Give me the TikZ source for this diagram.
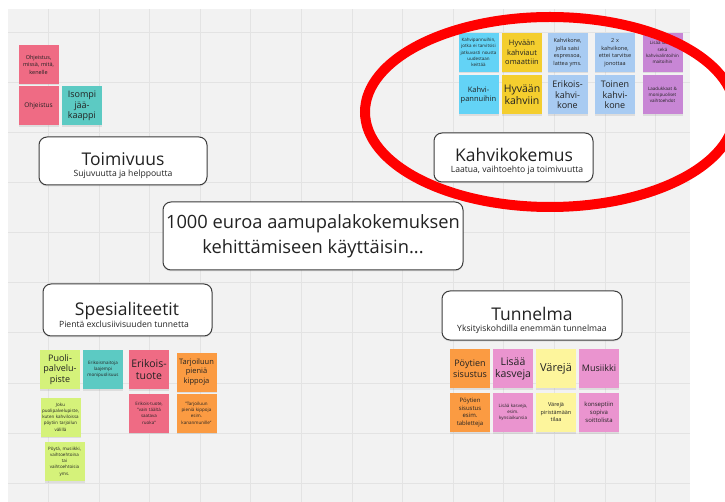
\documentclass[tikz,border=0pt]{standalone}
\usepackage{fontspec}
\setmainfont{Open Sans}
\usetikzlibrary{shadows}

\definecolor{board}{HTML}{F2F2F2}
\definecolor{gridc}{HTML}{E3E3E3}
\definecolor{frame}{HTML}{3C3C3C}
\definecolor{ink}{HTML}{222222}
\definecolor{spink}{HTML}{EF6B84}
\definecolor{steal}{HTML}{5CCAC3}
\definecolor{scyan}{HTML}{63D3F6}
\definecolor{syellow}{HTML}{F4CE2E}
\definecolor{sblue}{HTML}{A8CBF2}
\definecolor{spurple}{HTML}{C886D5}
\definecolor{slime}{HTML}{D5F27A}
\definecolor{sorange}{HTML}{FB9B42}
\definecolor{smagenta}{HTML}{EA94CF}
\definecolor{slyellow}{HTML}{FDF59C}
\definecolor{ring}{HTML}{FF0000}

\newcommand{\stfont}[2]{\fontsize{#1}{#2}\selectfont}

\tikzset{
  sticky/.style={rectangle, fill=#1, minimum width=40pt, minimum height=39pt,
    inner sep=1pt, text width=38pt, align=center, text=ink,
    drop shadow={shadow xshift=0pt, shadow yshift=-1.5pt, opacity=0.18}},
  hugetxt/.style={font=\stfont{10.5}{12}},
  bigtxt/.style={font=\stfont{9}{10.5}},
  midtxt/.style={font=\stfont{7.5}{9.5}},
  smalltxt/.style={font=\stfont{5.5}{7.5}},
  tinytxt/.style={font=\stfont{4.5}{6.3}},
  topic/.style={rectangle, draw=frame, line width=1pt, fill=white,
    rounded corners=8pt,
    drop shadow={shadow xshift=0pt, shadow yshift=-1.5pt, opacity=0.15}},
  heading/.style={anchor=base, inner sep=0pt, text=ink, font=\stfont{17.5}{20}},
  subheading/.style={anchor=base, inner sep=0pt, text=ink, font=\stfont{8.6}{10}},
  gridline/.style={draw=gridc, line width=1pt},
}

\begin{document}
\begin{tikzpicture}[x=1pt, y=-1pt]
\useasboundingbox (0,0) rectangle (725,502);

% whiteboard with its grid
\fill[board] (8,9) rectangle (690,502);
\foreach \i in {0,...,12} \draw[gridline] ({48.5+50.6*\i},9) -- ({48.5+50.6*\i},502);
\foreach \j in {0,...,9} \draw[gridline] (8,{33+50*\j}) -- (690,{33+50*\j});

% ---- top left notes
\node[sticky=spink, smalltxt] (ohj1) at (38.5,64.5) {Ohjeistus,\\missä, mitä,\\kenelle};
\node[sticky=spink, font=\stfont{6.5}{8}] (ohj2) at (38.5,106) {Ohjeistus};
\node[sticky=steal, bigtxt] (jaakaappi) at (82,106) {Isompi\\jää-\\kaappi};

% ---- coffee notes
\node[sticky=scyan, tinytxt] (pannu1) at (478.5,52.5) {Kahvipannuihin,\\jotka ei tarvitsisi\\jatkuvasti nousta\\uudestaan\\keittää};
\node[sticky=scyan, midtxt] (pannu2) at (478.5,95) {Kahvi-\\pannuihin};
\node[sticky=syellow, midtxt] (auto1) at (522,52.5) {Hyvään\\kahviaut\\omaattiin};
\node[sticky=syellow, hugetxt] (auto2) at (522,95) {Hyvään\\kahviin};
\node[sticky=sblue, smalltxt] (kone1) at (567.5,52.5) {Kahvikone,\\jolla saisi\\espressoa,\\lattea yms.};
\node[sticky=sblue, bigtxt] (kone2) at (567.5,95) {Erikois-\\kahvi-\\kone};
\node[sticky=sblue, smalltxt] (toinen1) at (615,52.5) {2 x\\kahvikone,\\ettei tarvitse\\jonottaa};
\node[sticky=sblue, bigtxt] (toinen2) at (615,95) {Toinen\\kahvi-\\kone};
\node[sticky=spurple, tinytxt] (laatu1) at (662.5,52.5) {Lisää laatua\\sekä\\kahvivalintoihin\\maitoihin};
\node[sticky=spurple, tinytxt] (laatu2) at (662.5,95) {Laadukkaat \&\\monipuoliset\\vaihtoehdot};

% ---- speciality notes
\node[sticky=slime, bigtxt] (piste1) at (60,369.5) {Puoli-\\palvelu-\\piste};
\node[sticky=steal, tinytxt] (maito) at (103,369.5) {Erikoismaitoja\\laajempi\\monipuolisuus};
\node[sticky=spink, hugetxt] (tuote1) at (149,369.5) {Erikois-\\tuote};
\node[sticky=sorange, midtxt] (kippo1) at (196.5,372) {Tarjoiluun\\pieniä\\kippoja};
\node[sticky=slime, tinytxt] (piste2) at (60.5,417) {Joku\\puolipalvelupiste,\\kuten kahviloissa\\pöytiin tarjoilun\\välillä};
\node[sticky=spink, tinytxt] (tuote2) at (149,413) {Erikois-tuote,\\"vain täältä\\saatava\\ruoka"};
\node[sticky=sorange, tinytxt] (kippo2) at (196.5,413) {"Tarjoiluun\\pieniä kippoja\\esim.\\kananmunille"};
\node[sticky=slime, tinytxt] (piste3) at (64.5,461.5) {Pöytä, musiikki,\\vaihtoehtoina\\tai\\vaihtoehtoisia\\yms.};

% ---- atmosphere notes
\node[sticky=sorange, bigtxt] (poyta1) at (470,368.5) {Pöytien\\sisustus};
\node[sticky=smagenta, hugetxt] (kasvi1) at (513,368.5) {Lisää\\kasveja};
\node[sticky=slyellow, font=\stfont{11}{13}] (vari1) at (556,368.5) {Värejä};
\node[sticky=smagenta, bigtxt] (musa1) at (599,368.5) {Musiikki};
\node[sticky=sorange, font=\stfont{6}{7.5}] (poyta2) at (470,412.5) {Pöytien\\sisustus\\esim.\\tabletteja};
\node[sticky=smagenta, tinytxt] (kasvi2) at (513,412.5) {Lisää kasveja,\\esim.\\kynsiaikunsia};
\node[sticky=slyellow, smalltxt] (vari2) at (556,412.5) {Värejä\\piristämään\\tilaa};
\node[sticky=smagenta, font=\stfont{6}{8}] (musa2) at (599,412.5) {konseptiin\\sopiva\\soittolista};

% ---- topic boxes
\node[topic, minimum width=168pt, minimum height=48pt] (toimivuus) at (123,161) {};
\node[heading] (toimivuusT) at (123,166) {Toimivuus};
\node[subheading] (toimivuusS) at (123,177) {Sujuvuutta ja helppoutta};

\node[topic, minimum width=159pt, minimum height=49pt] (kahvi) at (513.5,157.5) {};
\node[heading] (kahviT) at (514,162) {Kahvikokemus};
\node[subheading] (kahviS) at (517,173) {Laatua, vaihtoehto ja toimivuutta};

\node[topic, minimum width=300pt, minimum height=68pt] (ydin) at (313,236) {};
\node[heading, font=\stfont{18.3}{20}] (ydin1) at (313,229) {1000 euroa aamupalakokemuksen};
\node[heading, font=\stfont{18.3}{20}] (ydin2) at (313,254) {kehittämiseen käyttäisin...};

\node[topic, minimum width=169pt, minimum height=52pt] (spesial) at (127.5,310) {};
\node[heading] (spesialT) at (127,316) {Spesialiteetit};
\node[subheading] (spesialS) at (124,327) {Pientä exclusiivisuuden tunnetta};

\node[topic, minimum width=180pt, minimum height=49pt] (tunnelma) at (532,315.5) {};
\node[heading] (tunnelmaT) at (532,320) {Tunnelma};
\node[subheading] (tunnelmaS) at (532,332) {Yksityiskohdilla enemmän tunnelmaa};

% ---- red marker ring
\draw[ring, line width=10pt] (550,112) ellipse [x radius=185, y radius=95];
\end{tikzpicture}
\end{document}
